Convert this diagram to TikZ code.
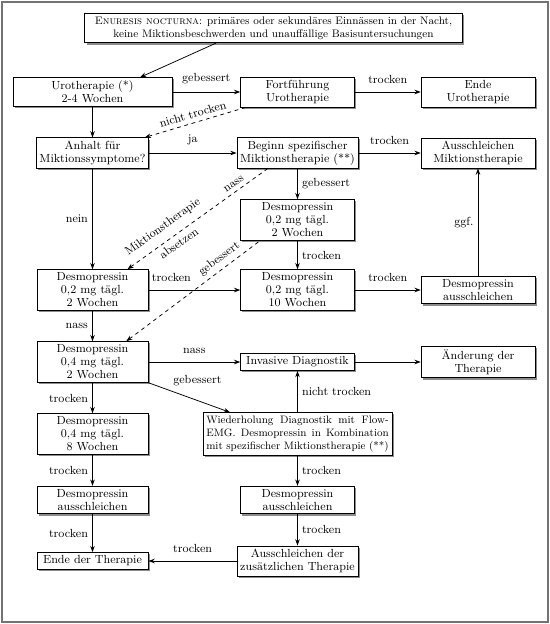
\documentclass[tikz,border=0pt]{standalone}
\usetikzlibrary{arrows.meta,shadows}

\begin{document}
\begin{tikzpicture}[x=0.8pt,y=-0.8pt,
		>={Stealth[length=5pt,width=3.6pt]},
		line width=0.6pt,
		font=\fontsize{9.4}{10.4}\selectfont,
		box/.style={draw, fill=white, align=center, minimum width=91pt,
			inner xsep=2.5pt, inner ysep=2.6pt,
			drop shadow={shadow xshift=1.4pt, shadow yshift=-1.4pt, fill=black!45, opacity=1}}]
		\useasboundingbox (0,0) rectangle (550,624);
		\draw[black!55, line width=1.6pt] (2,2) rectangle (548,622);
		\draw
			(273.5,28) node [box, inner xsep=8pt, font=\fontsize{8.7}{10.6}\selectfont] (enuresis) {\textsc{Enuresis nocturna}: prim\"ares oder sekund\"ares Einn\"assen in der Nacht,\\ keine Miktionsbeschwerden und unauff\"allige Basisuntersuchungen}
			(92.5,92) node [box, minimum width=127pt] (uro) {Urotherapie (*)\\ 2-4 Wochen}
			(297.5,92) node [box] (fort) {Fortf\"uhrung\\ Urotherapie}
			(478,92) node [box] (endeuro) {Ende\\ Urotherapie}
			(92.5,153) node [box, minimum width=89pt] (anhalt) {Anhalt f\"ur\\ Miktionssymptome?}
			(297.5,153) node [box] (beginn) {Beginn spezifischer\\ Miktionstherapie (**)}
			(478,153) node [box] (ausmikt) {Ausschleichen\\ Miktionstherapie}
			(297.5,220) node [box] (d02m) {Desmopressin\\ 0,2 mg t\"agl.\\ 2 Wochen}
			(92.5,290) node [box, minimum width=89pt] (d02) {Desmopressin\\ 0,2 mg t\"agl.\\ 2 Wochen}
			(297.5,290) node [box] (d10) {Desmopressin\\ 0,2 mg t\"agl.\\ 10 Wochen}
			(478,290) node [box] (dausr) {Desmopressin\\ ausschleichen}
			(92.5,362) node [box, minimum width=89pt] (d04) {Desmopressin\\ 0,4 mg t\"agl.\\ 2 Wochen}
			(297.5,362) node [box] (invasive) {Invasive Diagnostik}
			(478,362) node [box] (aenderung) {\"Anderung der\\ Therapie}
			(92.5,434) node [box, minimum width=89pt] (d04l) {Desmopressin\\ 0,4 mg t\"agl.\\ 8 Wochen}
			(297.5,434) node [box, font=\fontsize{8.6}{10.4}\selectfont] (wdh) {\makebox[146pt][s]{Wiederholung Diagnostik mit Flow-}\\
				\makebox[146pt][s]{EMG. Desmopressin in Kombination}\\
				\makebox[146pt][s]{mit spezifischer Miktionstherapie (**)}}
			(92.5,500) node [box, minimum width=89pt] (dausl) {Desmopressin\\ ausschleichen}
			(297.5,500) node [box] (dausm) {Desmopressin\\ ausschleichen}
			(92.5,561) node [box, minimum width=89pt] (ende) {Ende der Therapie}
			(297.5,561) node [box] (zus) {Ausschleichen der\\ zus\"atzlichen Therapie}
			;
		\draw[->] ([xshift=-46pt]enuresis.south) -- ([xshift=38pt]uro.north);
		\draw[->]
			(uro) edge node [above=3pt] {gebessert} (fort)
			      edge (anhalt)
			(fort) edge node [above=3pt] {trocken} (endeuro)
			(anhalt) edge node [above=3pt] {ja} (beginn)
			         edge node [left] {nein} (d02)
			(beginn) edge node [above=3pt] {trocken} (ausmikt)
			         edge node [right] {gebessert} (d02m)
			(d02m) edge node [right] {trocken} (d10)
			(d02) edge node [above=3pt, pos=0.25] {trocken} (d10)
			      edge node [left] {nass} (d04)
			(d10) edge node [above=3pt] {trocken} (dausr)
			(dausr) edge node [left] {ggf.} (ausmikt)
			(d04) edge node [above=3pt] {nass} (invasive)
			      edge node [left] {trocken} (d04l)
			(invasive) edge (aenderung)
			(wdh) edge node [right] {nicht trocken} (invasive)
			      edge node [right] {trocken} (dausm)
			(d04l) edge node [left] {trocken} (dausl)
			(dausl) edge node [left] {trocken} (ende)
			(dausm) edge node [right] {trocken} (zus)
			(zus) edge node [above=3pt] {trocken} (ende)
			;
		\draw[->] (d04.south east) -- node [pos=0.6, above=8pt] {gebessert} ([xshift=-54pt]wdh.north);
		% gestrichelte Rueckwege
		\draw[<-, dashed] (anhalt) -- node [above, sloped] {nicht trocken} (fort);
		\draw[<-, dashed] ([xshift=28pt]d02.north) --
			node [above=3pt, sloped, pos=0.31] {Miktionstherapie}
			node [below, sloped, pos=0.33] {absetzen}
			node [above, sloped, pos=0.79] {nass}
			([xshift=-24pt]beginn.south);
		\draw[<-, dashed] ([xshift=27pt]d04.north) --
			node [above, sloped, pos=0.74] {gebessert}
			([xshift=-30pt]d02m.south);
	\end{tikzpicture}
\end{document}
